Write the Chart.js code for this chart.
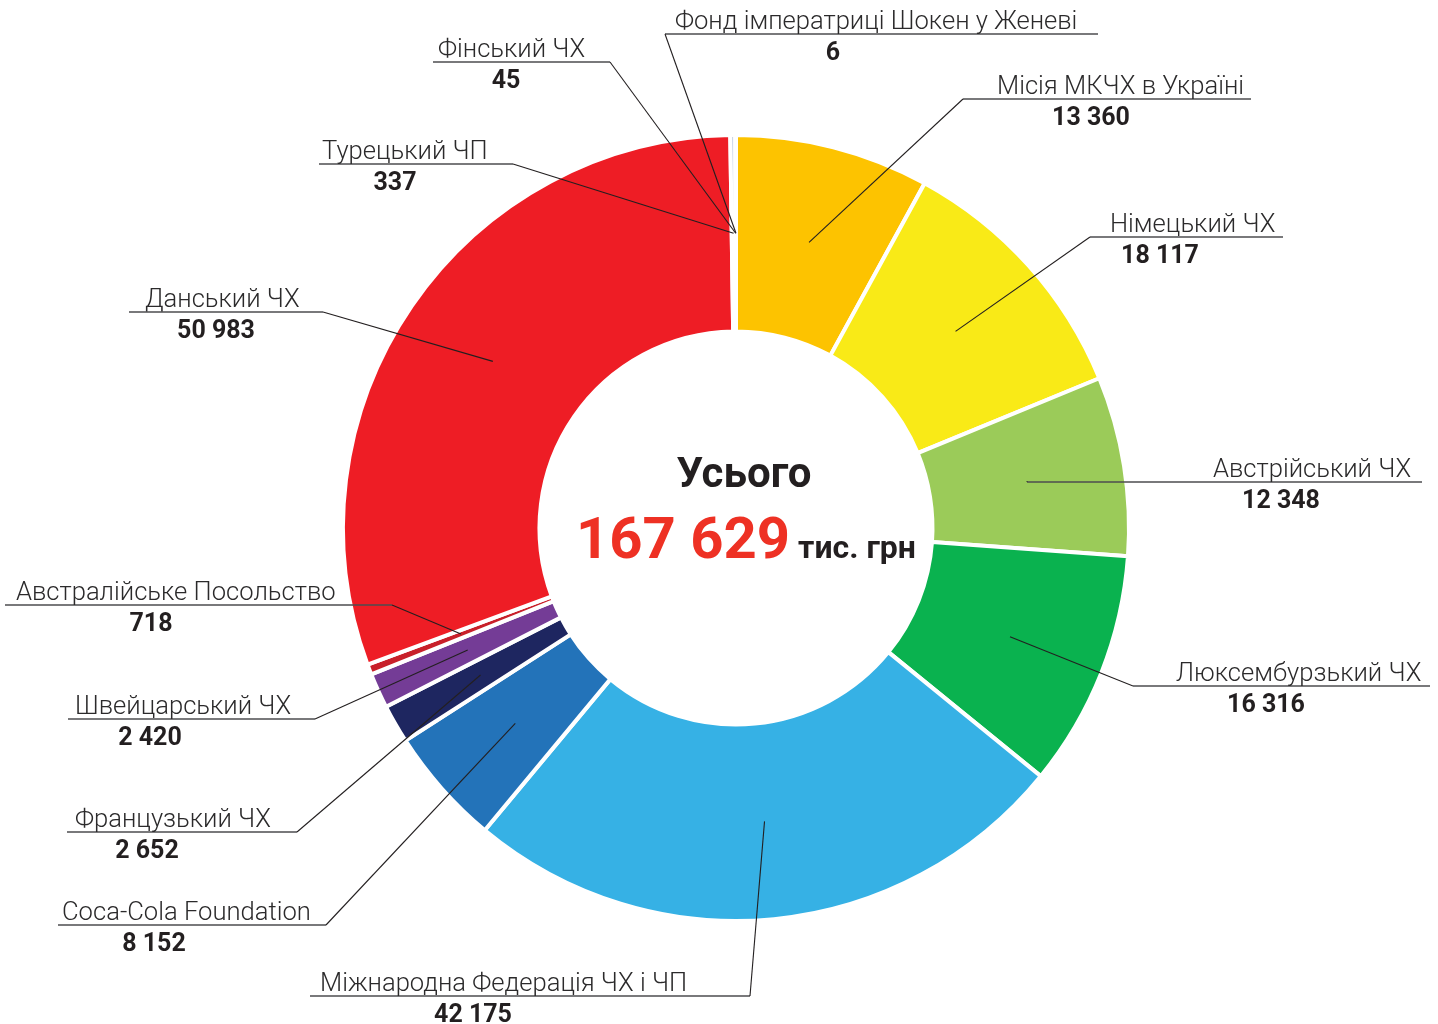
<!DOCTYPE html>
<html>
<head>
<meta charset="utf-8">
<script src="https://cdn.jsdelivr.net/npm/chart.js@4.4.1/dist/chart.umd.min.js"></script>
<style>
html,body{margin:0;padding:0;background:#ffffff;}
canvas{display:block;}
</style>
</head>
<body>
<canvas id="c" width="1438" height="1024"></canvas>
<script>
// ---- data ----
const categories = [
  'Місія МКЧХ в Україні',
  'Німецький ЧХ',
  'Австрійський ЧХ',
  'Люксембурзький ЧХ',
  'Міжнародна Федерація ЧХ і ЧП',
  'Coca-Cola Foundation',
  'Французький ЧХ',
  'Швейцарський ЧХ',
  'Австралійське Посольство',
  'Данський ЧХ',
  'Турецький ЧП',
  'Фінський ЧХ',
  'Фонд імператриці Шокен у Женеві'
];
const values = [13360, 18117, 12348, 16316, 42175, 8152, 2652, 2420, 718, 50983, 337, 45, 6];
const colors = ['#FDC300', '#F9EA17', '#9BCB59', '#0AB24F', '#36B1E5', '#2373B9', '#1E2660', '#743C96', '#C8202A', '#EE1D25', '#B4C2DD', '#C9D3E6', '#D5DCEB'];
const totalTitle = 'Усього';
const unitLabel = 'тис. грн';

// ---- label layout (positions only) ----
const labelLayout = [
  {lineY: 99,  x1: 963,  x2: 1251, anchor: 'left',  nameX: 997,  valueCX: 1091},
  {lineY: 237, x1: 1090, x2: 1283, anchor: 'left',  nameX: 1110, valueCX: 1160},
  {lineY: 482, x1: 1027, x2: 1422, anchor: 'left',  nameX: 1213, valueCX: 1281},
  {lineY: 686, x1: 1133, x2: 1430, anchor: 'left',  nameX: 1176, valueCX: 1266},
  {lineY: 996, x1: 310,  x2: 750,  anchor: 'right', nameX: 320,  valueCX: 473},
  {lineY: 925, x1: 58,   x2: 326,  anchor: 'right', nameX: 62,   valueCX: 154},
  {lineY: 832, x1: 67,   x2: 297,  anchor: 'right', nameX: 75,   valueCX: 147},
  {lineY: 719, x1: 68,   x2: 315,  anchor: 'right', nameX: 75,   valueCX: 150},
  {lineY: 605, x1: 5,    x2: 392,  anchor: 'right', nameX: 16,   valueCX: 151},
  {lineY: 312, x1: 129,  x2: 323,  anchor: 'right', nameX: 145,  valueCX: 216},
  {lineY: 164, x1: 319,  x2: 513,  anchor: 'right', nameX: 322,  valueCX: 395},
  {lineY: 62,  x1: 433,  x2: 610,  anchor: 'right', nameX: 438,  valueCX: 506},
  {lineY: 34,  x1: 665,  x2: 1098, anchor: 'left',  nameX: 675,  valueCX: 833}
];

function fmt(v) {
  return String(v).replace(/\B(?=(\d{3})+(?!\d))/g, ' ');
}

const labelPlugin = {
  id: 'labelPlugin',
  afterDatasetsDraw(chart) {
    const ctx = chart.ctx;
    const meta = chart.getDatasetMeta(0);
    const total = values.reduce((a, b) => a + b, 0);
    ctx.save();
    meta.data.forEach((arc, i) => {
      const L = labelLayout[i];
      const p = arc.tooltipPosition(true);
      const ax = L.anchor === 'left' ? L.x1 : L.x2;
      ctx.strokeStyle = '#4d4d4f';
      ctx.lineWidth = 1.5;
      ctx.beginPath();
      ctx.moveTo(L.x1, L.lineY);
      ctx.lineTo(L.x2, L.lineY);
      ctx.stroke();
      ctx.strokeStyle = '#231F20';
      ctx.lineWidth = 1.1;
      ctx.beginPath();
      ctx.moveTo(ax, L.lineY);
      ctx.lineTo(p.x, p.y);
      ctx.stroke();
      ctx.fillStyle = '#2b2a2b';
      ctx.font = '300 25.6px Roboto';
      ctx.textAlign = 'left';
      ctx.textBaseline = 'alphabetic';
      ctx.fillText(categories[i], L.nameX, L.lineY - 5);
      ctx.fillStyle = '#231F20';
      ctx.font = '700 25px Roboto';
      ctx.textAlign = 'center';
      ctx.fillText(fmt(values[i]), L.valueCX, L.lineY + 26);
    });
    const a0 = meta.data[0];
    const cx = a0.x, cy = a0.y;
    ctx.fillStyle = '#231F20';
    ctx.font = '700 42px Roboto';
    ctx.textAlign = 'center';
    ctx.fillText(totalTitle, cx + 8, cy - 41);
    ctx.textAlign = 'left';
    ctx.fillStyle = '#EE3124';
    ctx.font = '700 58px Roboto';
    const tStr = fmt(total);
    ctx.fillText(tStr, cx - 160, cy + 30);
    const w = ctx.measureText(tStr).width;
    ctx.fillStyle = '#231F20';
    ctx.font = '700 32px Roboto';
    ctx.fillText(unitLabel, cx - 160 + w + 8, cy + 30);
    ctx.restore();
  }
};

new Chart(document.getElementById('c'), {
  type: 'doughnut',
  data: {
    labels: categories,
    datasets: [{
      data: values,
      backgroundColor: colors,
      borderColor: '#ffffff',
      borderWidth: 4
    }]
  },
  options: {
    responsive: false,
    animation: false,
    cutout: '50%',
    layout: {padding: {left: 341, right: 307, top: 133, bottom: 101}},
    plugins: {legend: {display: false}, tooltip: {enabled: false}}
  },
  plugins: [labelPlugin]
});
</script>
</body>
</html>
